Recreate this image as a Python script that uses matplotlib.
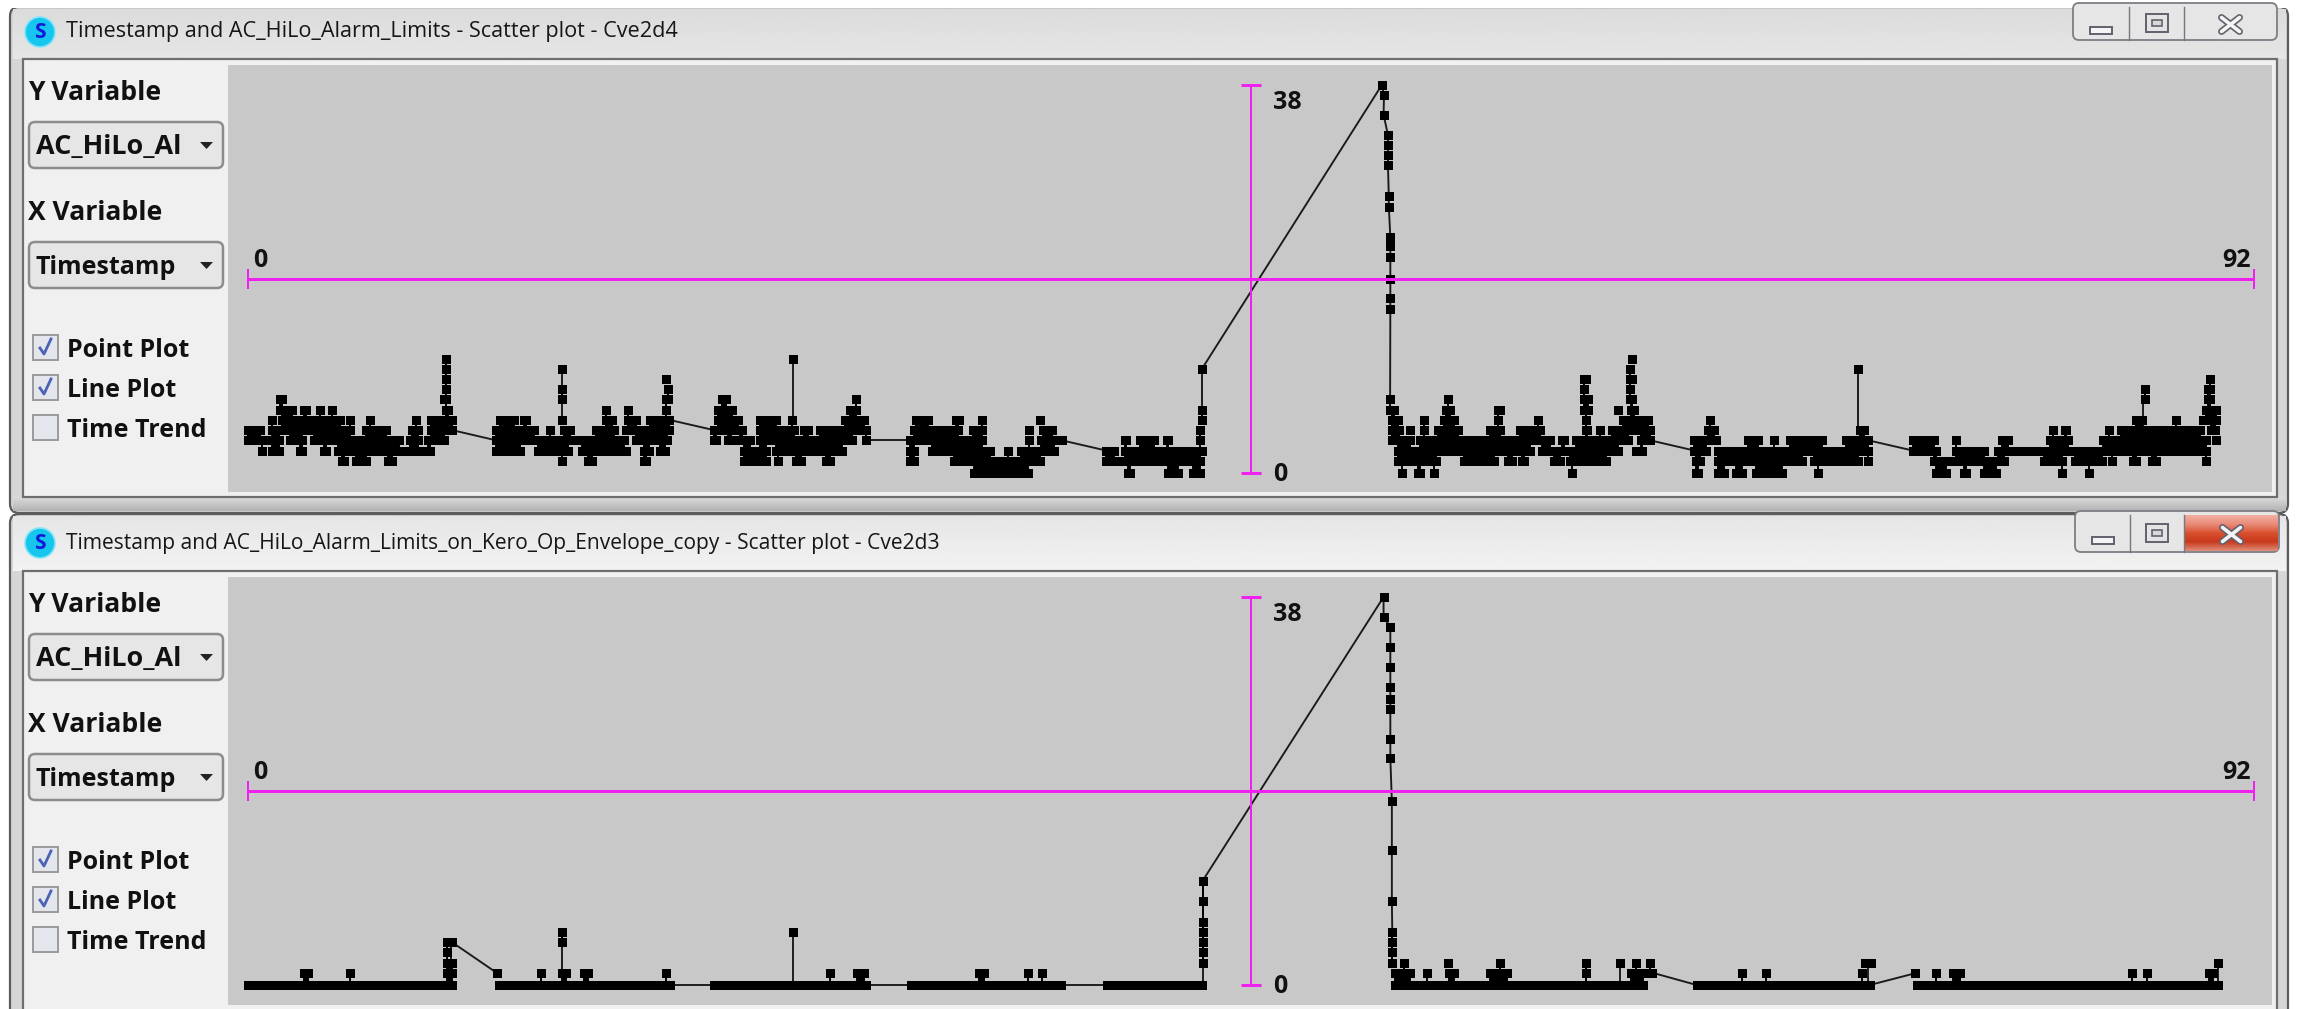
import matplotlib
matplotlib.use("Agg")
import matplotlib.pyplot as plt
from matplotlib.colors import LinearSegmentedColormap
from matplotlib.patches import Rectangle, FancyBboxPatch, Circle, Polygon
import numpy as np

W, H = 2301, 1009
DPI = 100
UI_FONT = ["Open Sans", "DejaVu Sans"]

# ---------- chart values: Timestamp runs at each AC_HiLo_Alarm_Limits level ----------
x_axis_limits = (0, 92)
y_axis_limits = (0, 38)
x_tick_labels = ("0", "92")
y_tick_labels = ("38", "0")

top_title = "Timestamp and AC_HiLo_Alarm_Limits - Scatter plot - Cve2d4"
bottom_title = "Timestamp and AC_HiLo_Alarm_Limits_on_Kero_Op_Envelope_copy - Scatter plot - Cve2d3"
y_choice = "AC_HiLo_Al"
x_choice = "Timestamp"
check_labels = ["Point Plot", "Line Plot", "Time Trend"]
check_states = [True, True, False]

top_level_0 = [(33.31,35.75),(40.36,40.44),(42.21,42.64),(43.32,43.65),(52.93,52.93),(53.67,53.76),(54.40,54.40),
    (60.73,60.73),(66.42,66.51),(67.43,67.70),(68.26,68.53),(69.17,70.36),(72.0,72.0),(77.43,77.89),(78.72,78.81),
    (79.64,80.18),(83.21,83.21),(84.41,84.41)]
top_level_1 = [(4.31,4.40),(4.95,5.41),(6.42,6.61),(14.40,14.40),(15.60,15.78),(18.17,18.26),(22.74,23.77),(24.31,24.31),
    (25.14,25.34),(26.52,26.70),(30.38,30.53),(32.39,36.32),(39.36,43.65),(52.75,54.49),(55.78,57.15),(57.80,57.98),
    (58.44,58.53),(59.91,60.18),(60.64,62.29),(66.42,66.60),(67.43,71.28),(71.84,73.85),(74.31,74.31),(77.34,80.55),
    (82.39,83.21),(83.77,85.05),(85.51,85.51),(86.43,86.61),(87.34,87.52),(89.82,89.82)]
top_level_2 = [(0.64,0.64),(1.10,1.44),(2.39,2.48),(3.49,3.58),(4.13,8.35),(11.38,12.48),(13.30,14.68),(15.32,17.34),
    (18.17,18.41),(18.90,19.11),(22.74,23.77),(24.22,27.23),(30.38,30.53),(31.38,34.03),(34.87,34.87),(35.43,36.96),
    (39.36,39.70),(40.20,43.75),(52.75,58.80),(59.36,62.84),(63.67,63.94),(66.33,66.88),(67.40,74.31),(76.35,77.43),
    (78.35,79.63),(80.28,89.82)]
top_level_3 = [(0,1.44),(1.93,2.48),(3.03,6.94),(7.43,7.80),(8.26,9.01),(11.38,17.26),(17.80,19.20),(21.37,21.48),
    (22.01,22.13),(22.58,23.04),(23.49,27.71),(28.35,28.35),(30.38,33.66),(35.82,35.82),(36.37,37.32),(40.20,40.26),
    (40.92,41.55),(42.13,42.19),(43.67,43.67),(52.48,53.27),(53.76,59.72),(60.27,60.36),(60.92,63.30),(63.88,64.31),
    (66.33,67.34),(68.81,69.26),(70.0,70.0),(70.73,72.20),(73.31,74.31),(76.35,77.34),(78.35,78.35),(80.46,80.73),
    (82.66,83.49),(85.07,89.82),(90.28,90.28)]
top_level_4 = [(0,0.55),(1.10,4.68),(5.41,6.33),(7.52,7.80),(8.38,9.36),(11.38,13.12),(13.85,13.85),(14.50,14.77),
    (15.96,16.79),(17.34,19.30),(21.37,22.67),(23.49,25.02),(25.51,25.70),(26.23,28.35),(30.54,32.54),(33.23,33.66),
    (35.80,35.80),(36.45,36.88),(43.67,43.67),(52.48,52.81),(53.30,53.30),(53.94,53.94),(54.59,55.50),(56.97,57.43),
    (58.35,59.26),(61.37,61.43),(62.02,62.02),(62.57,64.31),(66.97,67.24),(73.95,74.13),(82.76,82.76),(83.31,83.40),
    (85.33,85.33),(85.88,89.54),(90.03,90.20)]
top_level_5 = [(1.10,1.10),(1.57,4.22),(4.68,4.68),(5.60,5.60),(7.70,7.70),(8.38,9.36),(11.56,12.20),(12.66,12.75),
    (14.40,14.40),(16.42,16.70),(17.43,17.80),(18.44,19.33),(21.56,22.48),(23.49,24.22),(24.94,24.94),(27.36,28.27),
    (30.65,31.17),(32.47,32.59),(33.66,33.66),(36.33,36.33),(43.75,43.75),(52.48,52.75),(53.94,53.94),(54.86,55.32),
    (57.34,57.34),(59.17,59.17),(61.37,61.37),(63.04,64.22),(67.06,67.06),(86.61,86.85),(88.44,88.44),(89.64,90.28)]
top_level_6 = [(1.47,2.02),(2.57,2.66),(3.30,3.30),(3.86,3.86),(9.07,9.16),(16.42,16.42),(17.43,17.43),(19.19,19.19),
    (21.56,22.21),(27.60,27.90),(43.75,43.75),(52.38,52.56),(54.95,55.13),(57.34,57.43),(61.28,61.46),(62.84,62.84),
    (63.42,63.57),(89.82,90.28)]
top_level_7 = [(1.47,1.56),(8.99,9.08),(14.40,14.40),(19.17,19.27),(21.72,21.92),(27.90,27.90),(52.38,52.38),
    (55.04,55.04),(61.28,61.46),(63.39,63.48),(86.98,86.98),(89.91,89.97)]
top_level_8 = [(9.08,9.08),(14.40,14.40),(19.27,19.27),(61.28,61.28),(63.39,63.39),(86.98,86.98),(89.91,90.0)]
top_level_9 = [(9.08,9.08),(19.17,19.17),(61.28,61.37),(63.39,63.48),(90.0,90.0)]
top_level_10 = [(9.08,9.08),(14.40,14.40),(43.75,43.75),(63.39,63.39),(73.85,73.85)]
top_level_11 = [(9.08,9.08),(24.98,24.98),(63.48,63.48)]
top_peak_x = [43.75, 52.0, 52.1, 52.08, 52.28, 52.28, 52.28, 52.28, 52.32, 52.32, 52.39, 52.39, 52.39, 52.39, 52.39, 52.39, 52.38]
top_peak_y = [10.2, 38.0, 37.0, 35.1, 33.1, 32.1, 31.1, 30.2, 27.1, 26.1, 23.1, 22.2, 21.2, 19.0, 17.1, 16.1, 7.2]
top_links = [((9.36,4.2),(11.38,3.2)), ((19.33,5.2),(21.37,4.2)), ((28.35,3.2),(30.38,3.2)), ((37.32,3.2),(39.36,2.2)),
    ((64.31,3.2),(66.33,2.2)), ((74.31,3.2),(76.35,2.2)),
    ((14.40,5.2),(14.40,10.2)), ((24.98,5.2),(24.98,11.2)), ((43.75,6.2),(43.75,10.2)),
    ((73.85,4.2),(73.85,10.2)), ((86.9,4.2),(86.9,7.2)), ((61.37,4.2),(61.37,7.2))]

bottom_level_0 = [(0,9.35),(11.5,19.36),(21.39,28.33),(30.39,37.3),(39.39,43.75),(52.6,64.0),(66.44,74.38),(76.55,90.37)]
bottom_level_1 = [(2.59,2.74),(4.68,4.68),(9.13,9.35),(11.40,11.40),(13.43,13.43),(14.41,14.57),(15.43,15.58),(19.18,19.18),
    (26.67,26.67),(27.93,28.24),(33.52,33.74),(35.76,35.76),(36.41,36.41),(52.6,53.27),(54.06,54.06),(55.06,55.31),
    (56.96,57.76),(61.36,61.36),(63.42,64.41),(68.52,68.52),(69.64,69.64),(74.0,74.0),(76.47,76.47),(77.43,77.43),
    (78.21,78.52),(86.42,86.42),(87.07,87.07),(89.92,90.10)]
bottom_level_2 = [(9.13,9.35),(43.78,43.78),(52.48,52.48),(53.02,53.02),(55.04,55.04),(57.43,57.43),(61.36,61.36),
    (62.94,62.94),(63.65,63.65),(64.30,64.30),(74.18,74.44),(90.37,90.37)]
bottom_level_3 = [(9.13,9.13),(43.78,43.78),(52.48,52.48)]
bottom_level_4 = [(9.13,9.35),(14.38,14.38),(43.78,43.78),(52.48,52.48)]
bottom_level_5 = [(14.38,14.38),(25.01,25.01),(43.78,43.78),(52.48,52.48)]
bottom_level_6 = [(43.78,43.78)]
bottom_level_8 = [(43.78,43.78)]
bottom_level_10 = [(43.78,43.78)]
bottom_peak_x = [43.78, 52.08, 52.08, 52.39, 52.39, 52.39, 52.39, 52.39, 52.39, 52.39, 52.39, 52.46, 52.46, 52.46, 52.48]
bottom_peak_y = [10.2, 38.0, 36.0, 35.1, 33.1, 31.1, 29.2, 28.0, 27.0, 24.1, 22.2, 18.0, 13.2, 8.2, 5.2]
bottom_links = [((9.35,4.2),(11.40,1.2)), ((19.36,0),(21.39,0)), ((28.33,0),(30.39,0)), ((37.3,0),(39.39,0)),
    ((64.41,1.2),(66.44,0)), ((74.38,0),(76.55,1.2)),
    ((14.38,1.2),(14.38,5.2)), ((25.01,0),(25.01,5.2)), ((43.78,0),(43.78,10.2)),
    ((9.3,0),(9.3,4.2)), ((62.94,0),(62.94,2.2)), ((74.3,0),(74.3,2.2)), ((90.37,0),(90.37,2.2)), ((61.36,0),(61.36,2.2))]

top_levels = {0: top_level_0, 1.2: top_level_1, 2.2: top_level_2, 3.2: top_level_3, 4.2: top_level_4, 5.2: top_level_5,
    6.2: top_level_6, 7.2: top_level_7, 8.2: top_level_8, 9.2: top_level_9, 10.2: top_level_10, 11.2: top_level_11}
bottom_levels = {0: bottom_level_0, 1.2: bottom_level_1, 2.2: bottom_level_2, 3.2: bottom_level_3, 4.2: bottom_level_4,
    5.2: bottom_level_5, 6.2: bottom_level_6, 8.2: bottom_level_8, 10.2: bottom_level_10}

# ---------- figure ----------
fig = plt.figure(figsize=(W / DPI, H / DPI), dpi=DPI, facecolor="white")
chrome = fig.add_axes([0, 0, 1, 1], zorder=0)
chrome.set_xlim(0, W)
chrome.set_ylim(H, 0)
chrome.axis("off")
PT = 72 / DPI  # points per pixel
RED = LinearSegmentedColormap.from_list("closebtn", ["#f2ada0", "#e98a78", "#d9502f", "#c8391c", "#de8a76"])


def gradient(x0, x1, y0, y1, c0, c1, z=1):
    g = np.linspace(c0, c1, 32).reshape(-1, 1)
    chrome.imshow(g, extent=(x0, x1, y1, y0), cmap="gray", vmin=0, vmax=1, aspect="auto", zorder=z, interpolation="bilinear")


def window(y_top, y_title, title, title_px, y_frame, y_pane_bottom, close_red, x_buttons, y_btn_top, y_btn_bottom):
    y_body_bottom = min(y_pane_bottom + 16, H + 20)
    chrome.add_patch(FancyBboxPatch((10, y_top), 2278, y_body_bottom - y_top, boxstyle="round,pad=0,rounding_size=9",
                                    fc="#d6d6d6", ec="#5c5c5c", lw=1.6, zorder=1))
    top_c = 0.90 if close_red else 0.86
    bot_c = 0.95 if close_red else 0.90
    gradient(13, 2286, y_top + 2, y_frame, top_c, bot_c, z=1.2)
    gradient(13, 2286, y_pane_bottom, y_body_bottom - 2, 0.86, 0.70, z=1.2)
    chrome.add_patch(Rectangle((23, y_frame), 2254, y_pane_bottom - y_frame, fc="#f0f0f0", ec="#6e6e6e", lw=1.6, zorder=1.5))
    chrome.add_patch(Circle((40, y_title), 15, fc="#16c6ee", ec="#86e4f6", lw=1.2, zorder=2))
    chrome.text(40, y_title + 0.5, "S", color="#1418d8", fontsize=21 * PT, fontweight="bold", family=UI_FONT,
                ha="center", va="center", zorder=3)
    chrome.text(66, y_title, title, color="#161616", fontsize=title_px * PT, family=UI_FONT, ha="left", va="center", zorder=3)
    xa, xb, xc, xd = x_buttons
    chrome.add_patch(FancyBboxPatch((xa, y_btn_top - 4), xd - xa, y_btn_bottom - y_btn_top + 4,
                                    boxstyle="round,pad=0,rounding_size=6", fc="#e6e6e6", ec="#7d7d85", lw=1.3, zorder=2))
    if close_red:
        g = np.linspace(0, 1, 32).reshape(-1, 1)
        chrome.imshow(g, extent=(xc, xd - 1, y_btn_bottom - 1, y_btn_top), cmap=RED, aspect="auto", zorder=2.2, interpolation="bilinear")
    for xs in (xb, xc):
        chrome.plot([xs, xs], [y_btn_top, y_btn_bottom], color="#77777f", lw=1.0, zorder=2.3)
    cy = (y_btn_top + y_btn_bottom) / 2 + 1
    chrome.add_patch(Rectangle(((xa + xb) / 2 - 11, cy + 2), 22, 7, fc="#f4f4f4", ec="#62626e", lw=1.4, zorder=2.4))
    chrome.add_patch(Rectangle(((xb + xc) / 2 - 11, cy - 11), 22, 18, fc="#e4e4e4", ec="#62626e", lw=1.4, zorder=2.4))
    chrome.add_patch(Rectangle(((xb + xc) / 2 - 5, cy - 5), 10, 6, fc="#d8d8d8", ec="#62626e", lw=1.2, zorder=2.5))
    xm = (xc + xd) / 2
    for s in (1, -1):
        chrome.plot([xm - 9, xm + 9], [cy - 7 * s, cy + 7 * s], color="#62626e", lw=5.0, zorder=2.6, solid_capstyle="round")
        chrome.plot([xm - 9, xm + 9], [cy - 7 * s, cy + 7 * s], color="#f4f4f4", lw=2.6, zorder=2.7, solid_capstyle="round")


def controls(dy):
    text_kw = dict(family=UI_FONT, weight="bold", color="#111", va="center", zorder=3)
    chrome.text(28, 92.5 + dy, "Y Variable", fontsize=26.5 * PT, **text_kw)
    chrome.text(28, 212.5 + dy, "X Variable", fontsize=26.5 * PT, **text_kw)
    for yc, choice, px in ((145 + dy, y_choice, 27), (265 + dy, x_choice, 25)):
        chrome.add_patch(FancyBboxPatch((29, yc - 23), 194, 46, boxstyle="round,pad=0,rounding_size=6", fc="#e6e6e6", ec="#8c8c8c", lw=1.8, zorder=2))
        chrome.text(36, yc + 2.5, choice, fontsize=px * PT, **text_kw)
        chrome.add_patch(Polygon([[200, yc - 3], [213, yc - 3], [206.5, yc + 4]], fc="#222", ec="none", zorder=3))
    for yc, lab, on in zip((348 + dy, 388 + dy, 428 + dy), check_labels, check_states):
        chrome.add_patch(Rectangle((33, yc - 13), 25, 25, fc="#e4e6ee", ec="#9a9a9a", lw=1.4, zorder=2))
        if on:
            chrome.plot([40, 44, 51], [yc, yc + 6, yc - 9], color="#4a62b4", lw=2.0, zorder=3)
        chrome.text(67, yc + 2.5, lab, fontsize=25 * PT, **text_kw)


def plot_area(x0, x1, y_top, y_bottom, y_zero, levels, peak_x, peak_y, links):
    ax = fig.add_axes([x0 / W, 1 - y_bottom / H, (x1 - x0) / W, (y_bottom - y_top) / H], zorder=2)
    ax.set_facecolor("#c8c8c8")
    ppx = (2254 - 248) / x_axis_limits[1]
    ppy = (474 - 86) / y_axis_limits[1]
    ax.set_xlim((x0 - 248) / ppx, (x1 - 248) / ppx)
    ax.set_ylim((y_zero - y_bottom) / ppy, (y_zero - y_top) / ppy)
    ax.set_xticks([])
    ax.set_yticks([])
    for s in ax.spines.values():
        s.set_visible(False)
    ink = "#000000"
    marker_pt = 9 * PT
    line_pt = 1.9 * PT
    for (a, b) in links:
        ax.plot([a[0], b[0]], [a[1], b[1]], color="#1a1a1a", lw=line_pt, zorder=3)
    ax.plot(peak_x, peak_y, color="#1a1a1a", lw=line_pt, zorder=3)
    ax.plot(peak_x[1:], peak_y[1:], ls="none", marker="s", ms=marker_pt, mfc=ink, mew=0, zorder=4)
    order = sorted(levels)
    for lo, hi in zip(order[:-1], order[1:]):
        for s1, e1 in levels[lo]:
            for s2, e2 in levels[hi]:
                a, b = max(s1, s2), min(e1, e2)
                if a <= b:
                    ax.fill([a, b, b, a], [lo, lo, hi, hi], fc=ink, ec=ink, lw=line_pt, zorder=3)
    for level, runs in levels.items():
        for s, e in runs:
            ax.plot([s, e], [level, level], "-s", color=ink, lw=marker_pt, ms=marker_pt, mew=0, solid_capstyle="butt", zorder=4)
    mag = "#f020f0"
    xm = sum(x_axis_limits) / 2
    ym = sum(y_axis_limits) / 2
    axis_kw = dict(color=mag, zorder=5, solid_capstyle="butt")
    ax.plot(x_axis_limits, [ym, ym], lw=3 * PT, **axis_kw)
    ax.plot([xm, xm], y_axis_limits, lw=2 * PT, **axis_kw)
    for xv in x_axis_limits:
        ax.plot([xv, xv], [ym - 10 / ppy, ym + 10 / ppy], lw=2 * PT, **axis_kw)
    for yv in y_axis_limits:
        ax.plot([xm - 10 / ppx, xm + 10 / ppx], [yv, yv], lw=3 * PT, **axis_kw)
    tick_kw = dict(fontsize=25 * PT, family=UI_FONT, weight="bold", color="#111", va="center", zorder=6)
    ax.text(0.25, ym + 1.8, x_tick_labels[0], ha="left", **tick_kw)
    ax.text(91.85, ym + 1.8, x_tick_labels[1], ha="right", **tick_kw)
    ax.text(47, 36.3, y_tick_labels[0], ha="left", **tick_kw)
    ax.text(47, -0.1, y_tick_labels[1], ha="left", **tick_kw)
    return ax


window(7, 32, top_title, 21.7, 59, 497, False, (2073, 2129, 2184, 2277), 7, 40)
controls(0)
window(514, 543, bottom_title, 21.0, 571, 1030, True, (2075, 2130, 2184, 2279), 515, 552)
controls(512)
plot_area(228, 2272, 65, 492, 473, top_levels, top_peak_x, top_peak_y, top_links)
plot_area(228, 2272, 577, 1005, 985, bottom_levels, bottom_peak_x, bottom_peak_y, bottom_links)
# the reference is cropped through the top edge of the upper window
chrome.add_patch(Rectangle((0, 0), W, 8, fc="white", ec="none", zorder=1.3))
chrome.set_xlim(0, W)
chrome.set_ylim(H, 0)
fig.savefig("out.png", dpi=DPI, facecolor="white")
